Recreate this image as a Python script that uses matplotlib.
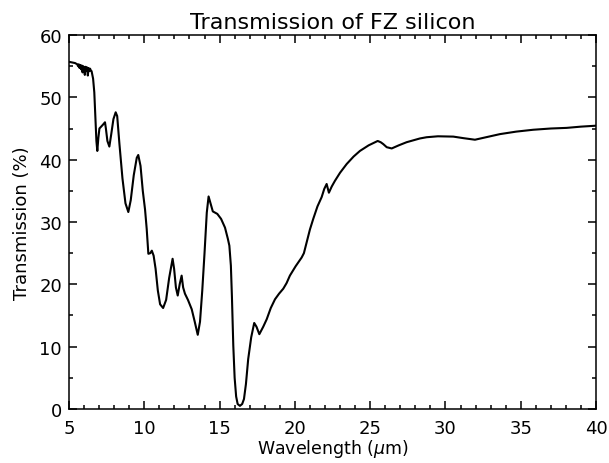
import numpy as np
import matplotlib
matplotlib.use('Agg')
import matplotlib.pyplot as plt
from matplotlib.ticker import MultipleLocator

# measured transmission spectrum of float-zone silicon
wavelength = [5.0, 5.2, 5.4, 5.55, 5.6, 5.65, 5.7, 5.75, 5.8, 5.85, 5.9, 5.95,
              6.0, 6.05, 6.1, 6.15, 6.2, 6.25, 6.3, 6.35, 6.4, 6.45, 6.5, 6.6,
              6.68, 6.75, 6.82, 6.88, 6.95, 7.02, 7.1, 7.25, 7.39, 7.45, 7.55,
              7.68, 7.8, 7.95, 8.1, 8.2, 8.35, 8.55, 8.75, 8.94, 9.1, 9.3, 9.5,
              9.6, 9.75, 9.9, 10.05, 10.16, 10.27, 10.4, 10.5, 10.62, 10.75,
              10.9, 11.05, 11.25, 11.45, 11.65, 11.88, 11.98, 12.1, 12.22,
              12.35, 12.48, 12.58, 12.7, 12.9, 13.15, 13.35, 13.55, 13.7, 13.85,
              14.0, 14.15, 14.27, 14.4, 14.55, 14.85, 15.1, 15.36, 15.55, 15.65,
              15.75, 15.82, 15.91, 16.0, 16.1, 16.2, 16.35, 16.5, 16.62, 16.75,
              16.9, 17.1, 17.3, 17.45, 17.64, 17.9, 18.13, 18.4, 18.68, 18.95,
              19.23, 19.45, 19.67, 20.05, 20.45, 20.6, 20.78, 21.0, 21.22, 21.5,
              21.78, 21.95, 22.11, 22.26, 22.45, 22.66, 23.0, 23.44, 23.9,
              24.32, 24.9, 25.5, 25.7, 25.87, 26.1, 26.43, 26.9, 27.42, 28.3,
              28.75, 29.5, 30.52, 31.2, 31.96, 32.7, 33.62, 34.7, 35.83, 37.0,
              38.05, 39.0, 40.0]
transmission = [55.7, 55.6, 55.5, 55.3, 55.0, 55.3, 54.7, 55.2, 54.5, 55.1,
                54.0, 55.0, 54.6, 53.6, 54.9, 54.3, 54.8, 53.5, 54.7, 54.2,
                54.6, 54.3, 54.2, 53.0, 50.8, 47.0, 43.0, 41.4, 43.5, 45.0,
                45.2, 45.6, 46.0, 45.0, 43.0, 42.1, 44.0, 46.5, 47.6, 47.0,
                42.5, 37.0, 33.0, 31.6, 33.5, 37.5, 40.3, 40.75, 39.0, 35.0,
                32.0, 28.9, 24.9, 25.0, 25.4, 24.6, 22.5, 19.0, 16.8, 16.2,
                17.5, 21.0, 24.1, 22.5, 19.5, 18.2, 20.0, 21.4, 19.5, 18.5,
                17.5, 16.0, 14.0, 11.9, 14.0, 19.0, 25.0, 31.5, 34.1, 33.0,
                31.7, 31.3, 30.5, 29.1, 27.3, 26.2, 23.0, 18.0, 10.2, 5.0, 2.0,
                0.8, 0.5, 0.8, 1.6, 4.0, 8.0, 11.5, 13.8, 13.2, 12.0, 13.2,
                14.4, 16.2, 17.6, 18.5, 19.3, 20.2, 21.4, 22.9, 24.3, 25.0,
                26.7, 28.8, 30.5, 32.5, 34.0, 35.3, 36.1, 34.7, 35.7, 36.6,
                37.9, 39.3, 40.5, 41.4, 42.3, 43.0, 42.8, 42.5, 42.0, 41.8,
                42.3, 42.8, 43.4, 43.6, 43.75, 43.7, 43.45, 43.2, 43.6, 44.1,
                44.5, 44.8, 45.0, 45.1, 45.3, 45.45]

x_ticks = [5, 10, 15, 20, 25, 30, 35, 40]
y_ticks = [0, 10, 20, 30, 40, 50, 60]

plt.rcParams['font.family'] = 'DejaVu Sans'

fig = plt.figure(figsize=(6.09, 4.64), dpi=100)
ax = fig.add_axes([0.1133, 0.1164, 0.8654, 0.806])

ax.plot(wavelength, transmission, color='black', linewidth=1.5)

ax.set_xlim(5, 40)
ax.set_ylim(0, 60)
ax.set_xticks(x_ticks)
ax.set_yticks(y_ticks)
ax.xaxis.set_minor_locator(MultipleLocator(1))
ax.yaxis.set_minor_locator(MultipleLocator(5))
ax.tick_params(which='both', direction='in', top=True, right=True,
               width=1.1, colors='black', labelsize=13)
ax.tick_params(which='major', length=6)
ax.tick_params(which='minor', length=3)
ax.tick_params(axis='x', pad=7)
ax.tick_params(axis='y', pad=5)
for spine in ax.spines.values():
    spine.set_linewidth(1.1)

ax.set_xlabel(r'Wavelength ($\mu$m)', fontsize=12.5, labelpad=0)
ax.set_ylabel('Transmission (%)', fontsize=13, labelpad=6)
ax.set_title('Transmission of FZ silicon', fontsize=16, pad=5)

fig.savefig('out.png', dpi=100)
